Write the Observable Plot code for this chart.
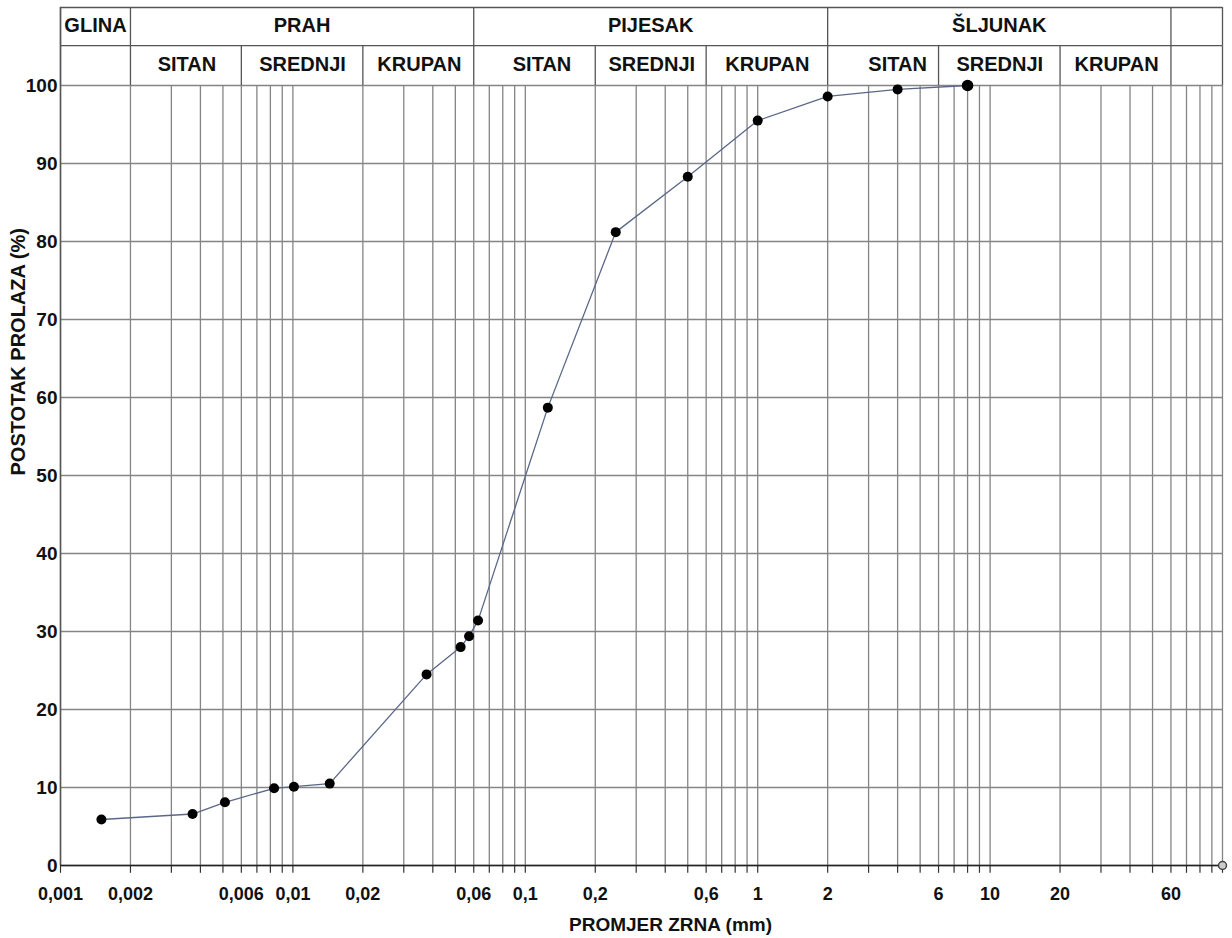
<!DOCTYPE html>
<html><head><meta charset="utf-8">
<script src="https://cdn.jsdelivr.net/npm/d3@7"></script>
<script src="https://cdn.jsdelivr.net/npm/@observablehq/plot@0.6"></script>
<style>body{margin:0;background:#fff} svg{display:block}</style>
</head><body><div id="chart"></div>
<script>
// grain size (mm) and percent passing
const grainSize = [0.0015, 0.0037, 0.0051, 0.0083, 0.0101, 0.0144, 0.0376, 0.0527, 0.0573, 0.0626, 0.125, 0.245, 0.5, 1.0, 2.0, 4.0, 8.0];
const passing   = [5.9, 6.6, 8.1, 9.9, 10.1, 10.5, 24.5, 28.0, 29.4, 31.4, 58.7, 81.2, 88.3, 95.5, 98.6, 99.5, 100];

const mainClasses = ["GLINA", "PRAH", "PIJESAK", "ŠLJUNAK"];
const mainBounds  = [0.001, 0.002, 0.06, 2, 60, 100];
const subClasses  = ["SITAN", "SREDNJI", "KRUPAN", "SITAN", "SREDNJI", "KRUPAN", "SITAN", "SREDNJI", "KRUPAN"];
const subBounds   = [0.001, 0.002, 0.006, 0.02, 0.06, 0.2, 0.6, 2, 6, 20, 60, 100];
const subLabelAt  = [0.0035, 0.011, 0.035, 0.118, 0.35, 1.1, 4.0, 11, 35];

const xTickLabels = [0.001, 0.002, 0.006, 0.01, 0.02, 0.06, 0.1, 0.2, 0.6, 1, 2, 6, 10, 20, 60];
const yTicks = [0, 10, 20, 30, 40, 50, 60, 70, 80, 90, 100];
const endSize = [100];
const endPass = [0];

const points = grainSize.map((d, i) => ({size: d, pass: passing[i]}));
const lastPoint = [points[points.length - 1]];
const mainCells = mainClasses.map((name, i) => ({name, at: Math.sqrt(mainBounds[i] * mainBounds[i + 1])}));
const subCells = subClasses.map((name, i) => ({name, at: subLabelAt[i]}));
const endPoint = endSize.map((d, i) => ({size: d, pass: endPass[i]}));

// log grid at 1..9 x 10^k
const gridX = [];
for (let k = -3; k <= 1; k++) for (let n = 1; n <= 9; n++) gridX.push(+(n * Math.pow(10, k)).toPrecision(3));
gridX.push(100);

const ROW_MID = 105.1, ROW_TOP = 110, TOP_TEXT = 107.7, SUB_TEXT = 102.7;
const fmt = d => String(d).replace(".", ",");
const font = "'Liberation Sans', Arial, Helvetica, sans-serif";

const chart = Plot.plot({
  width: 1232, height: 938,
  marginLeft: 60, marginRight: 10, marginTop: 85, marginBottom: 73,
  x: {type: "log", domain: [0.001, 100], range: [60, 1222], axis: null},
  y: {domain: [0, 100], range: [865, 85]},
  style: {fontFamily: font, fontWeight: "bold", color: "#111", background: "#fff"},
  marks: [
    // grid
    Plot.ruleY(yTicks, {x1: 0.001, x2: 100, stroke: "#858585", strokeWidth: 1.3}),
    Plot.ruleX(gridX, {y1: 0, y2: 100, stroke: "#858585", strokeWidth: 1.3}),
    // ticks below the axis
    Plot.ruleX(gridX, {y1: 0, y2: -1, stroke: "#333", strokeWidth: 1.2}),
    // header
    Plot.ruleX(mainBounds, {y1: ROW_MID, y2: ROW_TOP, stroke: "#555", strokeWidth: 1.3}),
    Plot.ruleX(subBounds, {y1: 100, y2: ROW_MID, stroke: "#555", strokeWidth: 1.3}),
    Plot.ruleY([ROW_MID, ROW_TOP], {x1: 0.001, x2: 100, stroke: "#555", strokeWidth: 1.3}),
    Plot.ruleX([0.001], {y1: 0, y2: ROW_TOP, stroke: "#555", strokeWidth: 1.5}),
    Plot.text(mainCells, {x: "at", y: TOP_TEXT, text: "name", fontSize: 20, fill: "#111"}),
    Plot.text(subCells, {x: "at", y: SUB_TEXT, text: "name", fontSize: 20, fill: "#111"}),
    // x axis line
    Plot.ruleY([0], {x1: 0.001, x2: 100, stroke: "#222", strokeWidth: 1.6}),
    // axes
    Plot.axisY({ticks: yTicks, tickSize: 0, tickPadding: 3, fontSize: 19, label: null}),
    Plot.text(xTickLabels, {x: d => d, y: 0, dy: 29, text: fmt, fontSize: 18, fill: "#111"}),
    Plot.text(["PROMJER ZRNA (mm)"], {frameAnchor: "bottom", dx: 29, dy: 65, fontSize: 19, fill: "#111"}),
    Plot.text(["POSTOTAK PROLAZA (%)"], {frameAnchor: "left", dx: -42, rotate: -90, fontSize: 20, fill: "#111"}),
    // data
    Plot.line(points, {x: "size", y: "pass", stroke: "#5a6788", strokeWidth: 1.3}),
    Plot.dot(points, {x: "size", y: "pass", r: 5, fill: "#000"}),
    Plot.dot(lastPoint, {x: "size", y: "pass", r: 5.8, fill: "#000"}),
    Plot.dot(endPoint, {x: "size", y: "pass", r: 4, fill: "#ccc", stroke: "#444", strokeWidth: 1.5})
  ]
});
document.getElementById("chart").appendChild(chart);
</script>
</body></html>
